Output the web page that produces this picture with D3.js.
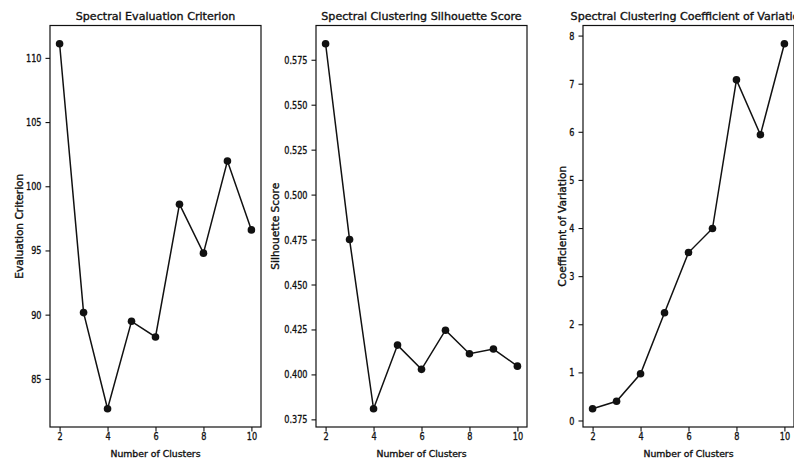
<!DOCTYPE html>
<html>
<head>
<meta charset="utf-8">
<script src="https://cdn.jsdelivr.net/npm/d3@7"></script>
<style>
  body { margin: 0; background: #fff; }
  svg text { font-family: "DejaVu Sans", sans-serif; fill: #111; stroke: #111; stroke-width: 0.35px; }
</style>
</head>
<body>
<svg id="chart" width="794" height="460"></svg>
<script>
// cluster counts on the x axis
const clusters = [2, 3, 4, 5, 6, 7, 8, 9, 10];
const xTicks = [2, 4, 6, 8, 10];

// series values
const evalCriterion = [111.1, 90.16, 82.67, 89.48, 88.26, 98.6, 94.79, 101.97, 96.6];
const silhouette = [0.5839, 0.475, 0.3809, 0.4163, 0.4028, 0.4246, 0.4115, 0.4141, 0.4046];
const coefVariation = [0.244, 0.40, 0.97, 2.24, 3.49, 3.99, 7.08, 5.94, 7.83];

// tick labels
const evalTicks = [85, 90, 95, 100, 105, 110];
const silTicks = [0.375, 0.400, 0.425, 0.450, 0.475, 0.500, 0.525, 0.550, 0.575];
const cvTicks = [0, 1, 2, 3, 4, 5, 6, 7, 8];

const panels = [
    { title: "Spectral Evaluation Criterion", ylabel: "Evaluation Criterion", values: evalCriterion, ticks: evalTicks, fmt: d3.format("d") },
    { title: "Spectral Clustering Silhouette Score", ylabel: "Silhouette Score", values: silhouette, ticks: silTicks, fmt: d3.format(".3f") },
    { title: "Spectral Clustering Coefficient of Variation", ylabel: "Coefficient of Variation", values: coefVariation, ticks: cvTicks, fmt: d3.format("d") }
];

const svg = d3.select("#chart");
const plotTop = 25.5, plotBottom = 427;
const plotWidth = 211;
const lefts = [50, 316, 583];
const tickLen = 4.5;
const squeeze = 0.74; // tick digits look narrow in the reference

// matplotlib style 5% padding around the data extent
function padded(ext) {
    const pad = (ext[1] - ext[0]) * 0.05;
    return [ext[0] - pad, ext[1] + pad];
}

panels.forEach((p, i) => {
    const g = svg.append("g").attr("transform", "translate(" + lefts[i] + ",0)");

    const x = d3.scaleLinear().domain(padded(d3.extent(clusters))).range([0, plotWidth]);
    const y = d3.scaleLinear().domain(padded(d3.extent(p.values))).range([plotBottom, plotTop]);

    // x axis
    const xAxis = g.append("g")
        .attr("transform", "translate(0," + plotBottom + ")")
        .call(d3.axisBottom(x).tickValues(xTicks).tickSize(tickLen).tickPadding(1).tickFormat(d3.format("d")));
    // y axis
    const yAxis = g.append("g")
        .call(d3.axisLeft(y).tickValues(p.ticks).tickSize(tickLen).tickPadding(4).tickFormat(p.fmt));

    [xAxis, yAxis].forEach(a => {
        a.select(".domain").remove();
        a.selectAll("line").attr("stroke", "#111").attr("stroke-width", 1.1);
        a.selectAll("text")
            .style("font-size", "11px")
            .style("font-family", "DejaVu Sans");
    });
    xAxis.selectAll("text").attr("transform", "scale(" + squeeze + ",1)");
    yAxis.selectAll("text")
        .attr("x", -(tickLen + 4) / squeeze)
        .attr("transform", "scale(" + squeeze + ",1)");

    // line and markers
    const line = d3.line()
        .x((d, j) => x(clusters[j]))
        .y(d => y(d));

    g.append("path")
        .datum(p.values)
        .attr("d", line)
        .attr("fill", "none")
        .attr("stroke", "#111")
        .attr("stroke-width", 1.5);

    g.selectAll(".dot")
        .data(p.values)
        .enter().append("circle")
        .attr("class", "dot")
        .attr("cx", (d, j) => x(clusters[j]))
        .attr("cy", d => y(d))
        .attr("r", 3.8)
        .attr("fill", "#111");

    // frame
    g.append("rect")
        .attr("x", 0)
        .attr("y", plotTop)
        .attr("width", plotWidth)
        .attr("height", plotBottom - plotTop)
        .attr("fill", "none")
        .attr("stroke", "#111")
        .attr("stroke-width", 1.2);

    // title
    g.append("text")
        .attr("x", plotWidth / 2)
        .attr("y", 20)
        .attr("text-anchor", "middle")
        .style("font-size", "11.1px")
        .text(p.title);

    // x label
    g.append("text")
        .attr("x", plotWidth / 2)
        .attr("y", 457)
        .attr("text-anchor", "middle")
        .style("font-size", "9.3px")
        .text("Number of Clusters");

    // y label
    const ylx = [-27, -37, -17][i];
    g.append("text")
        .attr("transform", "translate(" + ylx + "," + ((plotTop + plotBottom) / 2) + ") rotate(-90)")
        .attr("text-anchor", "middle")
        .style("font-size", "10.6px")
        .text(p.ylabel);
});
</script>
</body>
</html>
